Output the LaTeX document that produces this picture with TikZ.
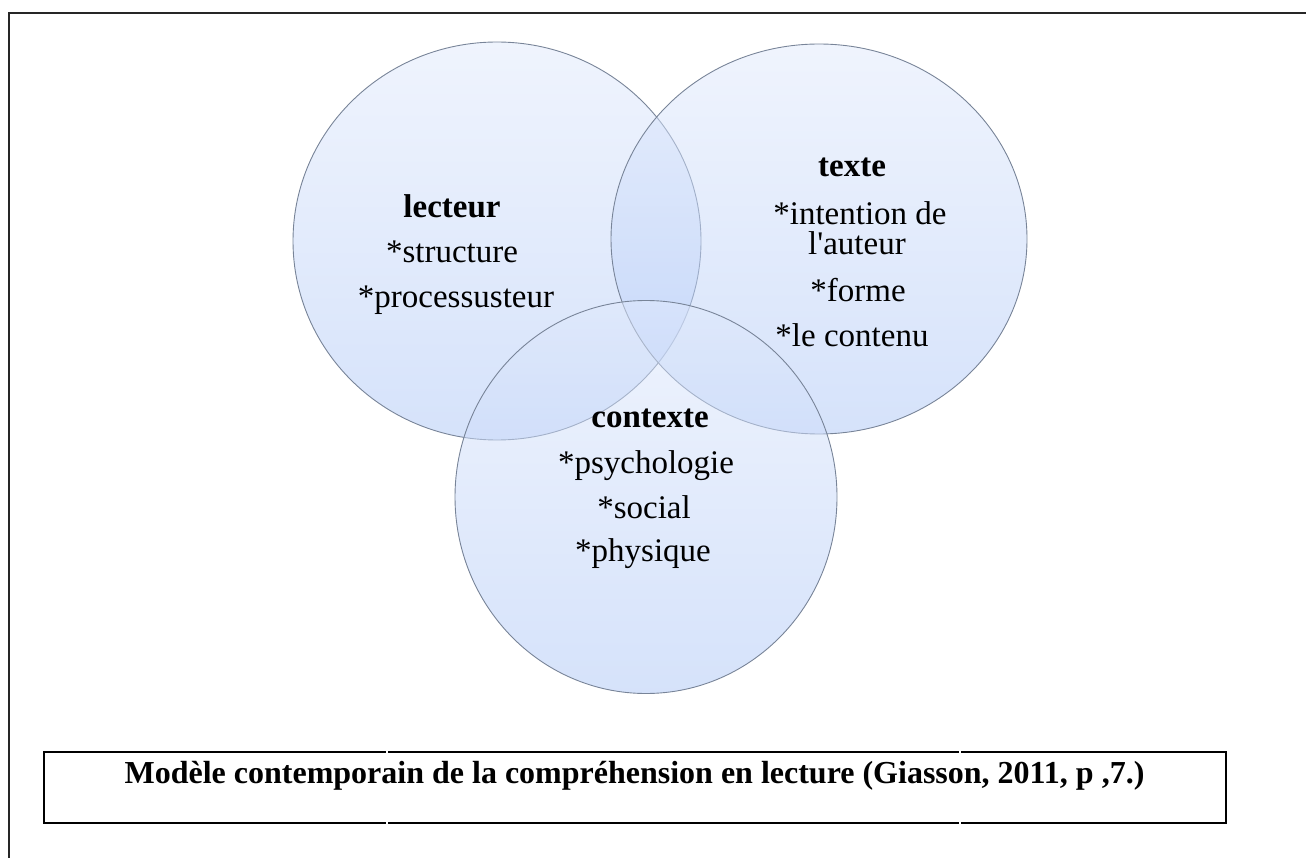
\documentclass[tikz,border=0pt]{standalone}
\usepackage{fontspec}
\setmainfont{Liberation Serif}
\newfontfamily\serifplain{Liberation Serif}
\usetikzlibrary{shapes.geometric}
\definecolor{ctop}{RGB}{224,233,252}
\definecolor{cbot}{RGB}{172,198,246}
\definecolor{cedge}{RGB}{120,132,152}
\tikzset{
  venn/.style={ellipse, inner sep=0pt, draw=cedge, line width=0.9pt,
    top color=ctop, bottom color=cbot, fill opacity=0.5, draw opacity=1},
  lbl/.style={anchor=base, inner sep=0pt, font=\fontsize{33}{38}\selectfont},
  lblb/.style={lbl, font=\fontsize{33}{38}\selectfont\bfseries},
  frame/.style={line width=2pt, draw=black!85},
}
\begin{document}
\begin{tikzpicture}[x=1pt, y=-1pt]
\useasboundingbox (0,0) rectangle (1306,858);
% outer frame (open on right and bottom)
\coordinate (ftl) at (9,13);
\coordinate (fbl) at (9,858);
\coordinate (ftr) at (1306,13);
\draw[frame, line cap=rect] (fbl) -- (ftl) -- (ftr);
% circles
\node[venn, minimum width=408pt, minimum height=398pt] (lecteur) at (497,241) {};
\node[venn, minimum width=416pt, minimum height=390pt] (texte) at (819,239) {};
\node[venn, minimum width=382pt, minimum height=393pt] (contexte) at (646,497) {};
% lecteur text
\node[lblb] (l1) at (452,218) {lecteur};
\node[lbl]  (l2) at (452,263) {*structure};
\node[lbl]  (l3) at (456,308) {*processusteur};
% texte text
\node[lblb] (t1) at (852,177) {texte};
\node[lbl]  (t2) at (860,225) {*intention de};
\node[lbl]  (t3) at (857,255) {\serifplain l'auteur};
\node[lbl]  (t4) at (858,302) {*forme};
\node[lbl]  (t5) at (852,347) {*le contenu};
% contexte text
\node[lblb] (c1) at (650,427) {contexte};
\node[lbl]  (c2) at (646,473) {*psychologie};
\node[lbl]  (c3) at (644,518) {*social};
\node[lbl]  (c4) at (643,561) {*physique};
% caption box
\node[draw=black, line width=2pt, minimum width=1182pt, minimum height=71pt, inner sep=0pt] (capbox) at (635,787.5) {};
\draw[white, line width=1.2pt] (387,750) -- (387,755) (387,820) -- (387,825) (960,750) -- (960,755) (960,820) -- (960,825);
\node[anchor=base, inner sep=0pt, font=\fontsize{32}{36}\selectfont\bfseries] (cap) at (634.5,783) {Modèle contemporain de la compréhension en lecture (Giasson, 2011, p ,7.)};
\end{tikzpicture}
\end{document}
